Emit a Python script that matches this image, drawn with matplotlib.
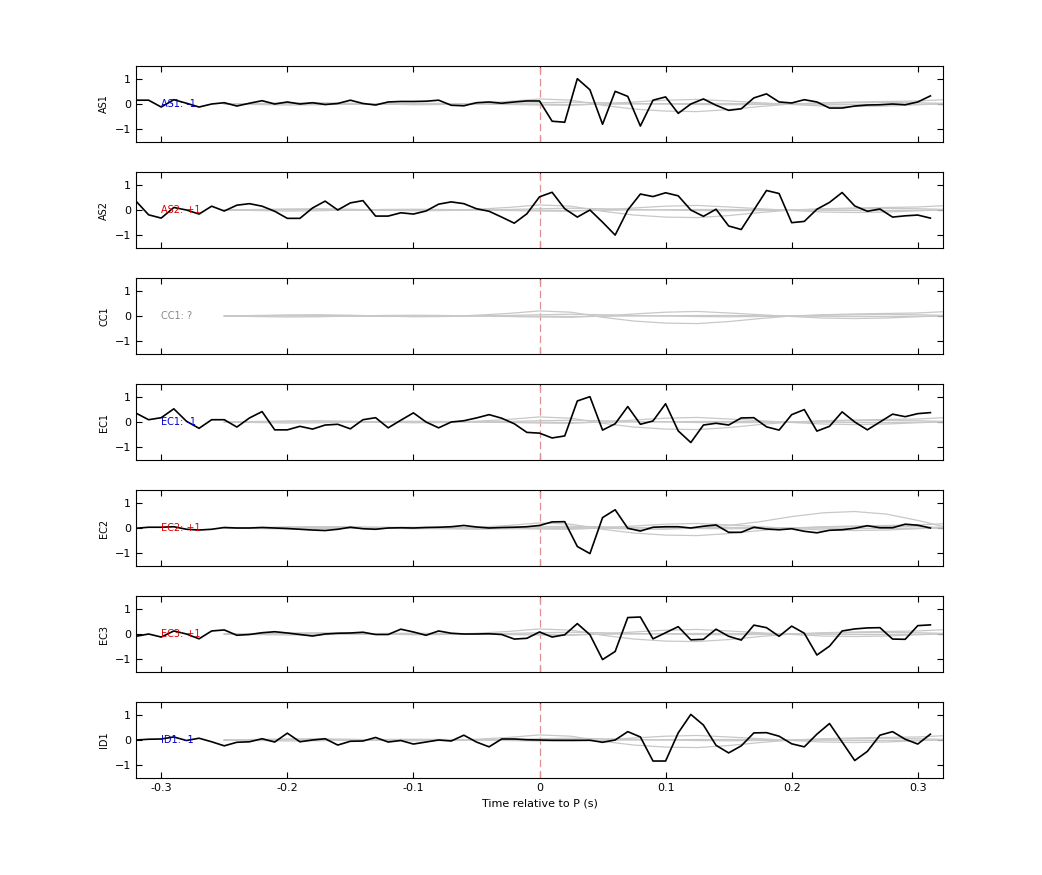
import matplotlib
matplotlib.use("Agg")
import matplotlib.pyplot as plt
import numpy as np

STATIONS = ["AS1", "AS2", "CC1", "EC1", "EC2", "EC3", "ID1"]
POLARITY = ["-1", "+1", "?", "-1", "+1", "+1", "-1"]
LABEL_COLORS = ["#0000cc", "#dd0000", "#888888", "#0000cc", "#dd0000", "#dd0000", "#0000cc"]

# black trace sample times: -0.32 .. 0.31 every 0.01
TIME = np.round(np.arange(-32, 32) * 0.01, 2)

AS1 = [0.15, 0.15, -0.12, 0.17, 0.03, -0.12, 0.0, 0.05, -0.08, 0.03, 0.13, 0.0, 0.08, 0.0, 0.05, -0.02,
       0.02, 0.15, 0.02, -0.04, 0.08, 0.1, 0.1, 0.11, 0.15, -0.05, -0.07, 0.05, 0.08, 0.03, 0.08, 0.12,
       0.12, -0.68, -0.72, 1.0, 0.56, -0.8, 0.5, 0.3, -0.87, 0.15, 0.28, -0.37, 0.0, 0.2, -0.05, -0.25,
       -0.19, 0.24, 0.4, 0.08, 0.04, 0.17, 0.08, -0.16, -0.16, -0.08, -0.04, -0.03, 0.0, -0.03, 0.08, 0.32]
AS2 = [0.35, -0.19, -0.32, 0.1, 0.0, -0.16, 0.15, -0.04, 0.19, 0.25, 0.15, -0.05, -0.33, -0.33, 0.08, 0.35,
       0.0, 0.28, 0.37, -0.24, -0.24, -0.11, -0.16, -0.04, 0.23, 0.32, 0.25, 0.05, -0.05, -0.28, -0.52, -0.15,
       0.52, 0.7, 0.05, -0.28, 0.0, -0.48, -0.99, 0.0, 0.63, 0.53, 0.68, 0.56, 0.0, -0.25, 0.03, -0.63,
       -0.77, 0.0, 0.77, 0.65, -0.5, -0.45, 0.03, 0.3, 0.69, 0.16, -0.05, 0.04, -0.28, -0.23, -0.2, -0.32]
EC1 = [0.35, 0.09, 0.17, 0.52, 0.03, -0.25, 0.09, 0.09, -0.2, 0.16, 0.41, -0.31, -0.31, -0.17, -0.28, -0.12,
       -0.09, -0.27, 0.09, 0.17, -0.23, 0.07, 0.36, 0.0, -0.23, 0.0, 0.05, 0.16, 0.29, 0.15, -0.07, -0.41,
       -0.44, -0.63, -0.55, 0.83, 1.0, -0.32, -0.07, 0.61, -0.09, 0.04, 0.72, -0.35, -0.81, -0.12, -0.05, -0.12,
       0.16, 0.17, -0.19, -0.32, 0.29, 0.49, -0.36, -0.17, 0.4, 0.0, -0.31, 0.0, 0.31, 0.21, 0.33, 0.37]
EC2 = [-0.01, 0.03, 0.03, 0.05, -0.05, -0.08, -0.05, 0.02, 0.0, 0.0, 0.02, 0.0, -0.02, -0.05, -0.08, -0.1,
       -0.05, 0.03, -0.03, -0.05, 0.0, 0.01, 0.0, 0.02, 0.03, 0.05, 0.1, 0.04, 0.0, 0.02, 0.03, 0.05,
       0.1, 0.24, 0.25, -0.73, -1.01, 0.41, 0.72, -0.01, -0.12, 0.03, 0.05, 0.05, 0.0, 0.07, 0.12, -0.17,
       -0.17, 0.03, -0.04, -0.07, -0.03, -0.13, -0.19, -0.09, -0.07, -0.01, 0.09, 0.01, 0.01, 0.15, 0.11, 0.0]
EC3 = [-0.09, 0.0, -0.12, 0.12, 0.0, -0.19, 0.12, 0.16, -0.05, -0.02, 0.05, 0.09, 0.04, -0.02, -0.08, 0.0,
       0.03, 0.04, 0.07, -0.02, -0.02, 0.19, 0.08, -0.05, 0.12, 0.03, 0.0, 0.0, 0.01, -0.02, -0.2, -0.17,
       0.08, -0.12, -0.03, 0.41, -0.03, -1.01, -0.69, 0.65, 0.67, -0.19, 0.05, 0.29, -0.23, -0.21, 0.19, -0.09,
       -0.24, 0.35, 0.25, -0.09, 0.31, 0.03, -0.83, -0.48, 0.12, 0.2, 0.24, 0.25, -0.2, -0.21, 0.33, 0.36]
ID1 = [0.0, 0.03, 0.04, 0.12, -0.02, 0.07, -0.07, -0.23, -0.09, -0.07, 0.05, -0.08, 0.27, -0.07, 0.0, 0.05,
       -0.2, -0.05, -0.04, 0.1, -0.08, -0.02, -0.16, -0.08, 0.0, -0.04, 0.19, -0.08, -0.27, 0.04, 0.04, 0.01,
       0.0, -0.01, -0.01, -0.01, -0.01, -0.09, 0.0, 0.33, 0.12, -0.83, -0.83, 0.28, 1.01, 0.59, -0.21, -0.51,
       -0.23, 0.28, 0.29, 0.15, -0.15, -0.27, 0.23, 0.65, -0.08, -0.81, -0.45, 0.19, 0.33, 0.03, -0.16, 0.23]
TRACES = [AS1, AS2, None, EC1, EC2, EC3, ID1]

# synthetic (gray) traces, sampled every 0.025 s from -0.25
GRAY_TIME = np.round(np.arange(-10, 24) * 0.025, 3)
GRAY_A = [0.0, 0.02, 0.04, 0.05, 0.03, 0.0, -0.03, -0.02, 0.03, 0.1, 0.2, 0.15, -0.05, -0.2, -0.28, -0.3,
          -0.22, -0.1, 0.0, 0.05, 0.08, 0.1, 0.12, 0.18, 0.25, 0.22, 0.05, -0.15, -0.15, 0.0, 0.3, 0.5, 0.55, 0.55]
GRAY_B = [0.0, -0.02, -0.04, -0.03, 0.0, 0.02, 0.03, 0.02, 0.0, -0.02, -0.04, -0.05, 0.0, 0.08, 0.15, 0.18,
          0.12, 0.05, -0.02, -0.08, -0.1, -0.08, -0.03, 0.02, 0.05, 0.03, -0.05, -0.18, -0.25, -0.2, 0.0, 0.2, 0.3, 0.3]
GRAY_C = [0.0, 0.01, 0.02, 0.02, 0.01, 0.0, -0.01, -0.01, 0.0, 0.02, 0.05, 0.07, 0.05, 0.02, 0.0, -0.02,
          -0.03, -0.02, 0.0, 0.03, 0.05, 0.06, 0.05, 0.02, -0.02, -0.05, -0.08, -0.06, 0.0, 0.05, 0.08, 0.05, 0.0, -0.05]
GRAY_D = [0.0, 0.0, 0.01, 0.0, -0.01, -0.01, 0.0, 0.01, 0.01, 0.0, -0.01, -0.02, -0.01, 0.0, 0.01, 0.02,
          0.02, 0.01, 0.0, -0.01, -0.02, -0.02, -0.01, 0.0, 0.02, 0.04, 0.05, 0.03, 0.0, -0.05, -0.1, -0.12, -0.1, -0.05]
GRAY_EC2 = [0.0, 0.0, 0.02, 0.05, 0.05, 0.03, 0.0, -0.03, -0.05, -0.03, 0.0, 0.02, 0.0, -0.05, -0.05, 0.0,
            0.1, 0.25, 0.45, 0.6, 0.65, 0.55, 0.3, 0.0, -0.35, -0.65, -0.75, -0.55, -0.2, 0.05, 0.1, 0.05, 0.0, 0.0]
GRAYS = [GRAY_A, GRAY_B, GRAY_C, GRAY_D]

fig = plt.figure(figsize=(10.42, 8.75), dpi=100)
for i, name in enumerate(STATIONS):
    top = 66 + 106 * i
    ax = fig.add_axes([136 / 1042, 1 - (top + 76) / 875, 807 / 1042, 76 / 875])
    ax.axvline(0, color="#e09090", lw=0.9, dashes=(6, 3))
    grays = GRAYS + ([GRAY_EC2] if name == "EC2" else [])
    for g in grays:
        ax.plot(GRAY_TIME, g, color="#c8c8c8", lw=0.9)
    if TRACES[i] is not None:
        ax.plot(TIME, TRACES[i], color="black", lw=1.2)
    ax.text(-0.3, 0, f"{name}: {POLARITY[i]}", color=LABEL_COLORS[i], fontsize=7, va="center", ha="left")
    ax.set_xlim(-0.32, 0.32)
    ax.set_ylim(-1.5, 1.5)
    ax.set_yticks([-1, 0, 1])
    ax.set_xticks([-0.3, -0.2, -0.1, 0, 0.1, 0.2, 0.3])
    ax.tick_params(direction="in", top=True, right=True, labelsize=8, length=4)
    ax.set_ylabel(name, fontsize=7)
    if i < len(STATIONS) - 1:
        ax.set_xticklabels([])
    else:
        ax.set_xticklabels(["-0.3", "-0.2", "-0.1", "0", "0.1", "0.2", "0.3"])
        ax.set_xlabel("Time relative to P (s)", fontsize=8)

fig.savefig("out.png", dpi=100)
